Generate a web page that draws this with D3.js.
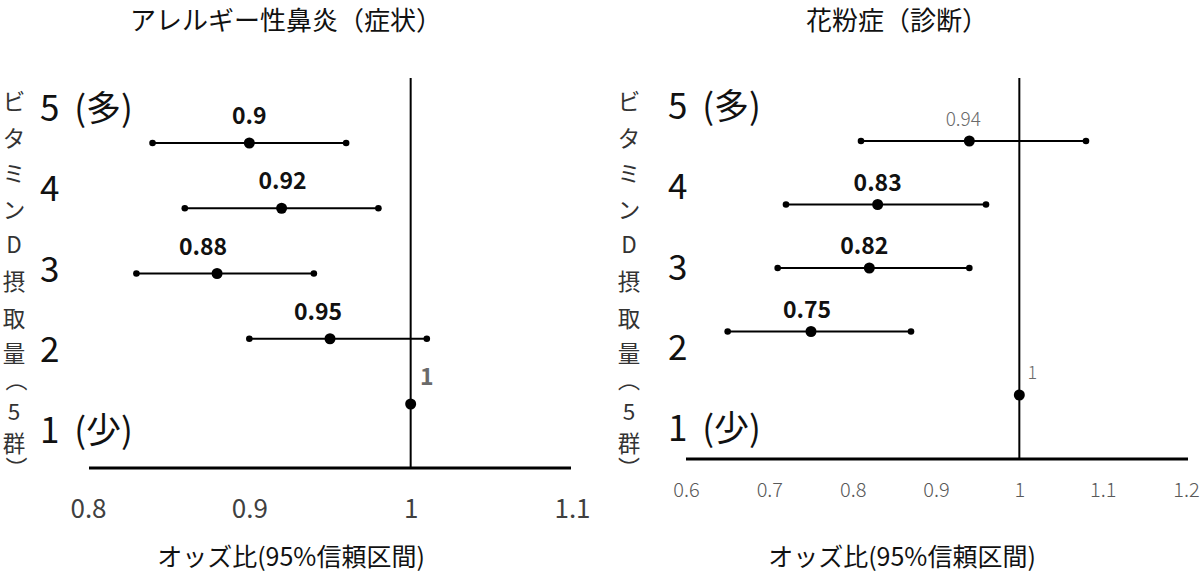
<!DOCTYPE html>
<html><head><meta charset="utf-8">
<script src="https://cdn.jsdelivr.net/npm/d3@7"></script>
<style>
html,body{margin:0;padding:0;background:#fff;}
svg text{font-family:"Noto Sans CJK JP","Noto Sans",sans-serif;}
</style></head>
<body><svg id="c" width="1200" height="573"></svg>
<script>
// ---- data ----
const groups = ["5", "4", "3", "2", "1"];
const groupLabels = ["5 (多)", "4", "3", "2", "1 (少)"];
const yTitleChars = ["ビ","タ","ミ","ン","D","摂","取","量","（","5","群","）"];
const xTitle = "オッズ比(95%信頼区間)";

const titleA = "アレルギー性鼻炎（症状）";
const orA   = [0.90, 0.92, 0.88, 0.95, 1.00];
const lowA  = [0.84, 0.86, 0.83, 0.90, null];
const highA = [0.96, 0.98, 0.94, 1.01, null];
const sigA  = [true, true, true, true, false];
const ticksA = [0.8, 0.9, 1.0, 1.1];

const titleB = "花粉症（診断）";
const orB   = [0.94, 0.83, 0.82, 0.75, 1.00];
const lowB  = [0.81, 0.72, 0.71, 0.65, null];
const highB = [1.08, 0.96, 0.94, 0.87, null];
const sigB  = [false, true, true, true, false];
const ticksB = [0.6, 0.7, 0.8, 0.9, 1.0, 1.1, 1.2];

// ---- layout ----
const svg = d3.select("#c");
const fmt = v => String(+v.toFixed(2));

const panels = [
  { title: titleA, titleX: 286, or: orA, low: lowA, high: highA, sig: sigA, ticks: ticksA,
    domain: [0.8, 1.1], range: [88, 572], axisY: 468, axisX: [89, 571], refTop: 78,
    ptRange: [143, 404], lblRange: [105, 427], lblX: 40, yTitleX: 14,
    tickY: 506, tickSize: 26, tickColor: "#404040", tickWeight: 400,
    valDy: -29, valDx: [0, 1, -14, -12, 16], refLabelWeight: 700, refLabelSize: 23,
    nsSize: 18, xTitleX: 291 },
  { title: titleB, titleX: 897, or: orB, low: lowB, high: highB, sig: sigB, ticks: ticksB,
    domain: [0.6, 1.2], range: [686, 1186], axisY: 459, axisX: [686, 1188], refTop: 78,
    ptRange: [141, 395], lblRange: [103, 425], lblX: 668, yTitleX: 629,
    tickY: 488, tickSize: 20, tickColor: "#595959", tickWeight: 300,
    valDy: -24, valDx: [-6, 0, -5, -4, 13], refLabelWeight: 300, refLabelSize: 18,
    nsSize: 19, xTitleX: 902 }
];

panels.forEach(p => {
  const g = svg.append("g");
  const x = d3.scaleLinear().domain(p.domain).range(p.range);
  const y = d3.scalePoint().domain(groups).range(p.ptRange);
  const yl = d3.scalePoint().domain(groups).range(p.lblRange);

  // title
  g.append("text").attr("x", p.titleX).attr("y", 18)
    .attr("text-anchor", "middle").attr("dominant-baseline", "central")
    .attr("font-size", 26).attr("fill", "#111").text(p.title);

  // group labels
  g.selectAll(".gl").data(groups).join("text")
    .attr("x", p.lblX).attr("y", d => yl(d))
    .attr("dominant-baseline", "central").attr("font-size", 35).attr("fill", "#111")
    .attr("xml:space", "preserve").style("white-space", "pre")
    .text((d, i) => groupLabels[i].replace(" ", "\u2009 "));

  // vertical y title, one glyph per line
  let cy = 100;
  const adv = [37, 35, 36, 35, 37, 37, 35, 33, 25, 32, 18, 0];
  yTitleChars.forEach((ch, i) => {
    const paren = (ch === "（" || ch === "）");
    const t = g.append("text").attr("fill", "#333").attr("font-size", paren ? 22 : 22.5).text(ch);
    if (paren) {
      // vertical writing gives the vertical form of the bracket
      t.style("writing-mode", "vertical-rl")
        .attr("x", Math.max(p.yTitleX, 16.5))
        .attr("y", ch === "（" ? cy - 16 : cy - 3)
        .attr("text-anchor", "start");
    } else {
      t.attr("x", p.yTitleX).attr("y", cy)
        .attr("text-anchor", "middle").attr("dominant-baseline", "central");
    }
    cy += adv[i];
  });

  // x axis via d3 axis (domain line drawn separately for thickness)
  const ax = d3.axisBottom(x).tickValues(p.ticks).tickSize(0).tickPadding(0).tickFormat(fmt);
  const axg = g.append("g").attr("transform", `translate(0,${p.axisY})`).call(ax);
  axg.select(".domain").remove();
  axg.selectAll(".tick text")
    .attr("y", p.tickY - p.axisY).attr("dy", null)
    .attr("dominant-baseline", "central")
    .attr("font-size", p.tickSize).attr("font-weight", p.tickWeight)
    .attr("fill", p.tickColor)
    .style("font-family", '"Noto Sans CJK JP","Noto Sans",sans-serif');
  g.append("line").attr("x1", p.axisX[0]).attr("x2", p.axisX[1])
    .attr("y1", p.axisY).attr("y2", p.axisY)
    .attr("stroke", "#000").attr("stroke-width", 3);

  // reference line at OR=1
  g.append("line").attr("x1", x(1)).attr("x2", x(1))
    .attr("y1", p.refTop).attr("y2", p.axisY)
    .attr("stroke", "#000").attr("stroke-width", 2);

  // x title
  g.append("text").attr("x", p.xTitleX).attr("y", 555)
    .attr("text-anchor", "middle").attr("dominant-baseline", "central")
    .attr("font-size", 25).attr("fill", "#111").text(xTitle);

  const rows = groups.map((gname, i) => ({ g: gname, or: p.or[i], lo: p.low[i], hi: p.high[i], sig: p.sig[i], i }));

  // CI lines
  const ci = rows.filter(r => r.lo != null);
  g.selectAll(".ci").data(ci).join("line")
    .attr("x1", r => x(r.lo)).attr("x2", r => x(r.hi))
    .attr("y1", r => y(r.g)).attr("y2", r => y(r.g))
    .attr("stroke", "#000").attr("stroke-width", 2);
  g.selectAll(".ciL").data(ci).join("circle")
    .attr("cx", r => x(r.lo)).attr("cy", r => y(r.g)).attr("r", 3.3).attr("fill", "#000");
  g.selectAll(".ciH").data(ci).join("circle")
    .attr("cx", r => x(r.hi)).attr("cy", r => y(r.g)).attr("r", 3.3).attr("fill", "#000");
  // point estimates
  g.selectAll(".pt").data(rows).join("circle")
    .attr("cx", r => x(r.or)).attr("cy", r => y(r.g)).attr("r", 5.5).attr("fill", "#000");

  // value labels
  g.selectAll(".vl").data(rows).join("text")
    .attr("x", r => x(r.or) + p.valDx[r.i]).attr("y", r => y(r.g) + p.valDy)
    .attr("text-anchor", "middle").attr("dominant-baseline", "central")
    .attr("font-size", r => r.sig ? 23 : (r.lo == null ? p.refLabelSize : p.nsSize))
    .attr("font-weight", r => r.sig ? 700 : (r.lo == null ? p.refLabelWeight : 300))
    .attr("fill", r => r.sig ? "#111" : "#6a6a6a")
    .text(r => fmt(r.or));
});
</script></body></html>
